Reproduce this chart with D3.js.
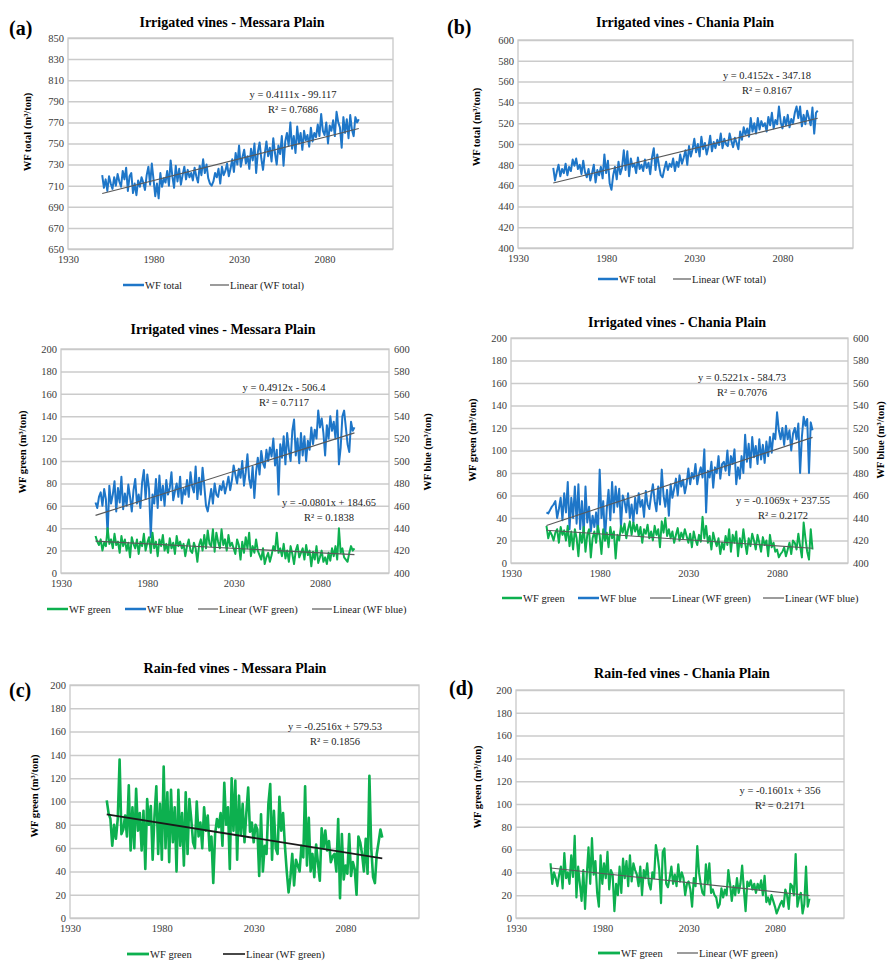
<!DOCTYPE html>
<html>
<head>
<meta charset="utf-8">
<script src="https://cdn.jsdelivr.net/npm/d3@7"></script>
<style>
  body { margin: 0; background: #fff; }
  text { font-family: "Liberation Serif", "Times New Roman", serif; }
</style>
</head>
<body>
<svg id="chart" width="887" height="962"></svg>
<script>
// years run 1950..2100, one value a year
const startYear = 1950;
const xTicks = [1930, 1980, 2030, 2080];

// (a) irrigated, Messara, WF total
const totalMessara = [
  720, 708, 716, 705, 719, 712, 707, 718, 710, 721,
  714, 709, 724, 716, 727, 705, 719, 722, 703, 712,
  701, 715, 709, 718, 713, 706, 720, 728, 711, 731,
  716, 700, 712, 698, 722, 709, 717, 713, 724, 710,
  734, 719, 708, 729, 714, 726, 711, 720, 728, 716,
  725, 718, 722, 715, 727, 719, 713, 729, 720, 735,
  722, 730, 717, 712, 710, 714, 722, 718, 726, 712,
  728, 720, 724, 731, 719, 726, 735, 723, 741, 730,
  748, 728, 737, 744, 731, 738, 726, 745, 734, 750,
  722, 742, 751, 736, 725, 740, 752, 738, 746, 733,
  755, 741, 730, 748, 740, 757, 729, 752, 760, 748,
  770, 745, 757, 741, 766, 750, 760, 744, 762, 753,
  758, 747, 765, 752, 760, 756, 768, 757, 778, 762,
  758, 770, 750, 767, 762, 772, 757, 780, 770, 765,
  746, 775, 760, 773, 755, 777, 763, 757, 775, 770,
  773
];

// (b) irrigated, Chania, WF total
const totalChania = [
  477, 465, 473, 480, 469, 476, 472, 481, 470, 478,
  474, 485, 479, 486, 476, 480, 471, 484, 473, 468,
  476, 465, 472, 480, 463, 475, 470, 478, 467, 490,
  472, 484, 462, 456, 470, 478, 466, 483, 471, 477,
  494, 475, 493, 469, 486, 478, 481, 472, 487, 476,
  480, 474, 485, 477, 482, 471, 487, 496, 475, 490,
  479, 470, 468, 476, 483, 475, 481, 478, 486, 474,
  483, 478, 490, 481, 487, 494, 480, 498, 488, 495,
  505, 492, 500, 488, 507, 495, 501, 490, 497, 508,
  493, 502, 496, 504, 499, 510, 496, 505, 500, 498,
  510, 503, 497, 506, 501, 495, 512, 504, 516, 509,
  515, 507, 525, 512, 520, 510, 525, 514, 522, 517,
  520, 512, 526, 518, 530, 515, 523, 519, 536, 521,
  515, 526, 518, 528, 516, 524, 520, 530, 536, 525,
  536, 517, 528, 519, 532, 525, 518, 535, 510, 530,
  532
];

// irrigated, Messara, green (left axis) and blue (right axis)
const greenIrrMessara = [
  33, 28, 25, 30, 20, 27, 24, 40, 26, 30,
  22, 35, 25, 28, 18, 33, 24, 30, 20, 27,
  14, 32, 26, 22, 30, 17, 28, 24, 35, 20,
  27, 32, 18, 36, 22, 28, 15, 30, 24, 34,
  20, 26, 18, 31, 22, 27, 17, 33, 24, 28,
  22, 26, 15, 24, 30, 20, 18, 27, 22, 10,
  25, 30, 20, 34, 22, 38, 26, 24, 39, 19,
  36, 28, 22, 39, 25, 30, 20, 34, 24, 27,
  22, 17, 30, 25, 12, 28, 18, 32, 22, 36,
  15, 24, 18, 30, 20, 16, 12, 22, 8, 14,
  18, 10, 16, 24, 20, 36, 18, 22, 15, 26,
  13, 20, 10, 24, 17, 8, 20, 25, 14, 18,
  22, 12, 25, 16, 20, 6, 19, 12, 24, 9,
  14, 20, 10, 14, 8, 18, 11, 22, 15, 24,
  12, 40, 18, 22, 14, 12, 10, 18, 24, 20,
  22
];
const blueIrrMessara = [
  463, 458, 468, 472, 460, 475, 466, 434, 478, 462,
  470, 482, 455, 476, 463, 486, 457, 471, 460, 479,
  468, 455, 474, 484, 462, 470, 458, 481, 492, 466,
  488, 475, 432, 470, 462, 484, 458, 487, 465, 478,
  460, 483, 470, 476, 490, 465, 473, 480, 468, 486,
  462, 475, 470, 483, 468, 490, 477, 472, 495, 466,
  485, 470, 494, 478, 460, 455, 465, 475, 462, 480,
  470, 468, 478, 474, 482, 471, 478, 486, 474, 483,
  496, 488, 480, 493, 485, 500, 478, 490, 506, 484,
  476, 495, 467, 490, 503, 488, 509, 498, 494, 510,
  500, 512, 504, 520, 496, 510, 470, 515, 503, 522,
  497, 525, 510, 500, 527, 537, 505, 520, 498, 525,
  505, 522, 500, 518, 510, 530, 515, 528, 520, 545,
  530, 538, 525, 505, 532, 520, 540, 527, 535, 520,
  545, 497, 512, 540, 545, 530, 515, 508, 535, 527,
  530
];

// irrigated, Chania, green (left axis) and blue (right axis)
const greenIrrChania = [
  33, 22, 28, 25, 20, 27, 30, 18, 32, 25,
  29, 20, 33, 15, 28, 12, 30, 22, 6, 27,
  18, 32, 10, 25, 30, 5, 22, 28, 18, 33,
  24, 8, 30, 20, 27, 14, 32, 22, 28, 4,
  25, 20, 33, 27, 35, 22, 30, 37, 25, 36,
  28, 34, 24, 32, 18, 30, 26, 34, 22, 28,
  20, 33, 25, 30, 14, 37, 27, 40, 24, 30,
  22, 28, 18, 25, 31, 20, 27, 22, 30, 24,
  18, 26, 14, 28, 21, 16, 25, 19, 41, 22,
  33, 18, 24, 12, 27, 20, 15, 22, 8, 18,
  12, 24, 16, 30, 10, 25, 18, 28, 6, 22,
  14, 30, 18, 8, 22, 15, 26, 20, 12, 25,
  18, 10, 23, 16, 20, 6, 25, 14, 18, 10,
  12, 5, 8, 10, 14, 6, 12, 18, 8, 20,
  18, 12, 26, 15, 5, 36, 22, 10, 3, 30,
  12
];
const blueIrrChania = [
  445, 444, 447, 450, 452, 455, 440, 448, 458, 438,
  462, 445, 472, 430, 458, 440, 468, 435, 470, 430,
  455, 425, 468, 436, 450, 428, 442, 432, 445, 426,
  483, 440, 455, 420, 448, 465, 438, 472, 445, 468,
  450, 466, 432, 460, 455, 445, 462, 440, 452, 436,
  458, 444, 462, 450, 456, 441, 464, 452, 448, 460,
  470, 455, 446, 468, 452, 483, 460, 450, 465, 442,
  470, 458, 466, 475, 460, 478, 468, 474, 462, 470,
  484, 470, 480, 475, 488, 470, 479, 485, 476, 501,
  445, 482, 476, 490, 467, 485, 480, 495, 475, 488,
  490, 482, 500, 478, 495, 488, 501, 470, 485, 475,
  495, 480, 514, 490, 506, 485, 512, 494, 504, 488,
  510, 492, 505, 489, 508, 495, 512, 498, 515, 510,
  534, 518, 510, 520, 505, 522, 510, 518, 500, 515,
  520, 510, 524, 480, 512, 530, 522, 528, 480, 525,
  518
];

// (c) rain-fed, Messara, green
const greenRainMessara = [
  101, 90, 85, 62, 80, 68, 85, 136, 72, 76,
  88, 70, 114, 58, 95, 60, 111, 75, 90, 58,
  92, 42, 102, 80, 96, 50, 88, 113, 55, 98,
  50, 130, 60, 108, 48, 110, 65, 95, 40, 110,
  62, 90, 45, 108, 55, 102, 85, 65, 60, 100,
  70, 82, 60, 95, 75, 88, 58, 70, 30, 72,
  85, 78, 90, 62, 116, 80, 95, 42, 120, 75,
  118, 50, 105, 72, 98, 65, 90, 112, 74, 82,
  65, 80, 76, 36, 89, 40, 62, 55, 98, 115,
  50, 92, 60, 55, 104, 75, 90, 62, 40, 22,
  35, 55, 28, 50, 45, 40, 62, 52, 113, 45,
  86, 40, 55, 35, 63, 47, 32, 77, 60, 75,
  58, 66, 48, 53, 55, 40, 85, 17, 72, 33,
  45, 38, 72, 36, 48, 42, 20, 70, 65, 55,
  40, 68, 38, 122, 60, 35, 30, 55, 65, 76,
  69
];

// (d) rain-fed, Chania, green
const greenRainChania = [
  48, 30, 40, 35, 28, 38, 45, 26, 57, 35,
  40, 30, 55, 36, 72, 18, 45, 30, 15, 42,
  8, 38, 62, 30, 70, 38, 50, 22, 10, 55,
  30, 48, 35, 58, 25, 42, 38, 6, 30, 20,
  45, 22, 52, 35, 50, 28, 55, 32, 48, 42,
  38, 28, 45, 20, 42, 35, 48, 30, 25, 40,
  35, 64, 55, 42, 13, 58, 61, 30, 27, 35,
  45, 30, 38, 28, 47, 32, 40, 35, 20, 30,
  32, 25, 10, 35, 28, 63, 40, 30, 22, 20,
  47, 30, 48, 22, 25, 20, 18, 9, 12, 26,
  18, 25, 20, 42, 30, 15, 28, 20, 35, 22,
  30, 46, 25, 6, 32, 28, 33, 25, 30, 22,
  30, 25, 33, 20, 37, 14, 18, 12, 20, 15,
  10, 4, 8, 12, 15, 10, 25, 20, 8, 30,
  28, 20, 56, 10, 18, 22, 4, 12, 45, 10,
  17
];

// linear trend coefficients [slope, intercept] and their labels
const trendTotalMessara = [0.4111, -99.117];
const trendTotalChania = [0.4152, -347.18];
const trendBlueMessara = [0.4912, -506.4];
const trendGreenMessara = [-0.0801, 184.65];
const trendBlueChania = [0.5221, -584.73];
const trendGreenChania = [-0.1069, 237.55];
const trendRainMessara = [-0.2516, 579.53];
const trendRainChania = [-0.1601, 356];

const eqTotalMessara = ["y = 0.4111x - 99.117", "R² = 0.7686"];
const eqTotalChania = ["y = 0.4152x - 347.18", "R² = 0.8167"];
const eqBlueMessara = ["y = 0.4912x - 506.4", "R² = 0.7117"];
const eqGreenMessara = ["y = -0.0801x + 184.65", "R² = 0.1838"];
const eqBlueChania = ["y = 0.5221x - 584.73", "R² = 0.7076"];
const eqGreenChania = ["y = -0.1069x + 237.55", "R² = 0.2172"];
const eqRainMessara = ["y = -0.2516x + 579.53", "R² = 0.1856"];
const eqRainChania = ["y = -0.1601x + 356", "R² = 0.2171"];

const BLUE = "#1e76c8", GREEN = "#0db04f", GREY = "#595959";

const svg = d3.select("#chart");

function styleTicks(sel) {
  sel.select(".domain").remove();
  sel.selectAll("text")
      .attr("font-size", 10.5)
      .attr("fill", "#3a3a3a")
      .style("font-family", "Liberation Serif, serif");
}

function panel(p) {
  const g = svg.append("g");
  const x = d3.scaleLinear().domain([1930, 2120]).range([p.left, p.right]);
  const y = d3.scaleLinear().domain(p.yDomain).range([p.bottom, p.top]);
  const y2 = p.y2Domain ? d3.scaleLinear().domain(p.y2Domain).range([p.bottom, p.top]) : null;
  const yTicks = d3.range(p.yDomain[0], p.yDomain[1] + 1, 20);

  // gridlines
  g.append("g")
      .attr("transform", "translate(" + p.left + ",0)")
      .call(d3.axisLeft(y).tickValues(yTicks).tickSize(-(p.right - p.left)).tickFormat(""))
      .call(s => s.select(".domain").remove())
      .selectAll("line").attr("stroke", "#cbcbcb").attr("stroke-width", 1.5);

  g.append("rect")
      .attr("x", p.left).attr("y", p.top)
      .attr("width", p.right - p.left).attr("height", p.bottom - p.top)
      .attr("fill", "none").attr("stroke", "#c8c8c8").attr("stroke-width", 1.3);

  // tick labels
  g.append("g")
      .attr("transform", "translate(" + p.left + ",0)")
      .call(d3.axisLeft(y).tickValues(yTicks).tickSize(0).tickPadding(4))
      .call(styleTicks);

  if (y2) {
    g.append("g")
        .attr("transform", "translate(" + p.right + ",0)")
        .call(d3.axisRight(y2).tickValues(d3.range(p.y2Domain[0], p.y2Domain[1] + 1, 20)).tickSize(0).tickPadding(5))
        .call(styleTicks);
  }

  g.append("g")
      .attr("transform", "translate(0," + p.bottom + ")")
      .call(d3.axisBottom(x).tickValues(xTicks).tickFormat(d3.format("d")).tickSize(0).tickPadding(7))
      .call(styleTicks);

  // data lines
  p.series.forEach(function(s) {
    const sc = s.right ? y2 : y;
    const line = d3.line()
        .x(function(d, i) { return x(startYear + i); })
        .y(function(d) { return sc(d); });
    g.append("path")
        .datum(s.values)
        .attr("fill", "none")
        .attr("stroke", s.color)
        .attr("stroke-width", s.width || 2)
        .attr("stroke-linejoin", "round")
        .attr("d", line);
  });

  // trend lines
  p.trends.forEach(function(t) {
    const sc = t.right ? y2 : y;
    const yrs = [startYear, startYear + t.n - 1];
    g.append("path")
        .datum(yrs)
        .attr("fill", "none")
        .attr("stroke", t.color || GREY)
        .attr("stroke-width", t.width || 1.1)
        .attr("d", d3.line()
          .x(function(d) { return x(d); })
          .y(function(d) { return sc(t.coef[0] * d + t.coef[1]); }));
  });

  // equations
  p.eqs.forEach(function(e) {
    e.lines.forEach(function(l, i) {
      g.append("text")
          .attr("x", e.x).attr("y", e.y + i * 15)
          .attr("text-anchor", "middle")
          .attr("font-size", 10.5)
          .attr("fill", "#222")
          .text(l);
    });
  });

  g.append("text")
      .attr("x", p.titleX).attr("y", p.titleY)
      .attr("text-anchor", "middle")
      .attr("font-size", 14).attr("font-weight", "bold")
      .text(p.title);

  if (p.letter) {
    g.append("text")
        .attr("x", p.letter[1]).attr("y", p.letter[2])
        .attr("font-size", 20).attr("font-weight", "bold")
        .text(p.letter[0]);
  }

  p.yLabels.forEach(function(l) {
    g.append("text")
        .attr("transform", "translate(" + l.x + "," + l.y + ") rotate(-90)")
        .attr("text-anchor", "middle")
        .attr("font-size", 10.5).attr("font-weight", "bold")
        .text(l.text);
  });

  p.legend.forEach(function(l) {
    g.append("line")
        .attr("x1", l.x0).attr("x2", l.x1)
        .attr("y1", p.legendY).attr("y2", p.legendY)
        .attr("stroke", l.color)
        .attr("stroke-width", l.width);
    g.append("text")
        .attr("x", l.x1 + 1).attr("y", p.legendY + 3.5)
        .attr("font-size", 10.5)
        .attr("fill", "#222")
        .text(l.label);
  });
}

panel({
  left: 68, right: 393, top: 38, bottom: 249, yDomain: [650, 850],
  series: [{ values: totalMessara, color: BLUE }],
  trends: [{ coef: trendTotalMessara, n: totalMessara.length }],
  eqs: [{ lines: eqTotalMessara, x: 293, y: 98 }],
  title: "Irrigated vines - Messara Plain", titleX: 232, titleY: 27,
  letter: ["(a)", 9, 35],
  yLabels: [{ x: 31, y: 132, text: "WF total (m³/ton)" }],
  legendY: 285,
  legend: [
    { x0: 123, x1: 144, color: BLUE, width: 2.5, label: "WF total" },
    { x0: 210, x1: 229, color: GREY, width: 1.2, label: "Linear (WF total)" }
  ]
});

panel({
  left: 518, right: 853, top: 40, bottom: 248, yDomain: [400, 600],
  series: [{ values: totalChania, color: BLUE }],
  trends: [{ coef: trendTotalChania, n: totalChania.length }],
  eqs: [{ lines: eqTotalChania, x: 767, y: 79 }],
  title: "Irrigated vines - Chania Plain", titleX: 685, titleY: 27,
  letter: ["(b)", 447, 34],
  yLabels: [{ x: 480, y: 127, text: "WF total (m³/ton)" }],
  legendY: 279,
  legend: [
    { x0: 598, x1: 618, color: BLUE, width: 2.5, label: "WF total" },
    { x0: 673, x1: 691, color: GREY, width: 1.2, label: "Linear (WF total)" }
  ]
});

panel({
  left: 61, right: 389, top: 349, bottom: 573, yDomain: [0, 200], y2Domain: [400, 600],
  series: [
    { values: blueIrrMessara, color: BLUE, right: true },
    { values: greenIrrMessara, color: GREEN }
  ],
  trends: [
    { coef: trendBlueMessara, n: blueIrrMessara.length, right: true },
    { coef: trendGreenMessara, n: greenIrrMessara.length }
  ],
  eqs: [
    { lines: eqBlueMessara, x: 284, y: 391 },
    { lines: eqGreenMessara, x: 329, y: 506 }
  ],
  title: "Irrigated vines - Messara Plain", titleX: 223, titleY: 334,
  yLabels: [
    { x: 26, y: 452, text: "WF green (m³/ton)" },
    { x: 431, y: 452, text: "WF blue (m³/ton)" }
  ],
  legendY: 609,
  legend: [
    { x0: 47, x1: 68, color: GREEN, width: 2.5, label: "WF green" },
    { x0: 125, x1: 146, color: BLUE, width: 2.5, label: "WF blue" },
    { x0: 198, x1: 218, color: GREY, width: 1.2, label: "Linear (WF green)" },
    { x0: 312, x1: 332, color: GREY, width: 1.2, label: "Linear (WF blue)" }
  ]
});

panel({
  left: 511, right: 848, top: 338, bottom: 563, yDomain: [0, 200], y2Domain: [400, 600],
  series: [
    { values: blueIrrChania, color: BLUE, right: true },
    { values: greenIrrChania, color: GREEN }
  ],
  trends: [
    { coef: trendBlueChania, n: blueIrrChania.length, right: true },
    { coef: trendGreenChania, n: greenIrrChania.length }
  ],
  eqs: [
    { lines: eqBlueChania, x: 742, y: 381 },
    { lines: eqGreenChania, x: 783, y: 504 }
  ],
  title: "Irrigated vines - Chania Plain", titleX: 677, titleY: 327,
  yLabels: [
    { x: 476, y: 440, text: "WF green (m³/ton)" },
    { x: 884, y: 440, text: "WF blue (m³/ton)" }
  ],
  legendY: 598,
  legend: [
    { x0: 502, x1: 522, color: GREEN, width: 2.5, label: "WF green" },
    { x0: 578, x1: 599, color: BLUE, width: 2.5, label: "WF blue" },
    { x0: 650, x1: 671, color: GREY, width: 1.2, label: "Linear (WF green)" },
    { x0: 763, x1: 784, color: GREY, width: 1.2, label: "Linear (WF blue)" }
  ]
});

panel({
  left: 70, right: 419, top: 685, bottom: 918, yDomain: [0, 200],
  series: [{ values: greenRainMessara, color: GREEN, width: 2.6 }],
  trends: [{ coef: trendRainMessara, n: greenRainMessara.length, color: "#1a1a1a", width: 1.8 }],
  eqs: [{ lines: eqRainMessara, x: 335, y: 730 }],
  title: "Rain-fed vines - Messara Plain", titleX: 235, titleY: 673,
  letter: ["(c)", 9, 697],
  yLabels: [{ x: 38, y: 796, text: "WF green (m³/ton)" }],
  legendY: 954,
  legend: [
    { x0: 127, x1: 149, color: GREEN, width: 2.8, label: "WF green" },
    { x0: 223, x1: 245, color: "#1a1a1a", width: 1.6, label: "Linear (WF green)" }
  ]
});

panel({
  left: 516, right: 844, top: 690, bottom: 918, yDomain: [0, 200],
  series: [{ values: greenRainChania, color: GREEN, width: 2.2 }],
  trends: [{ coef: trendRainChania, n: greenRainChania.length }],
  eqs: [{ lines: eqRainChania, x: 780, y: 794 }],
  title: "Rain-fed vines - Chania Plain", titleX: 682, titleY: 678,
  letter: ["(d)", 449, 695],
  yLabels: [{ x: 481, y: 787, text: "WF green (m³/ton)" }],
  legendY: 953,
  legend: [
    { x0: 598, x1: 620, color: GREEN, width: 2.8, label: "WF green" },
    { x0: 677, x1: 698, color: GREY, width: 1.2, label: "Linear (WF green)" }
  ]
});
</script>
</body>
</html>
